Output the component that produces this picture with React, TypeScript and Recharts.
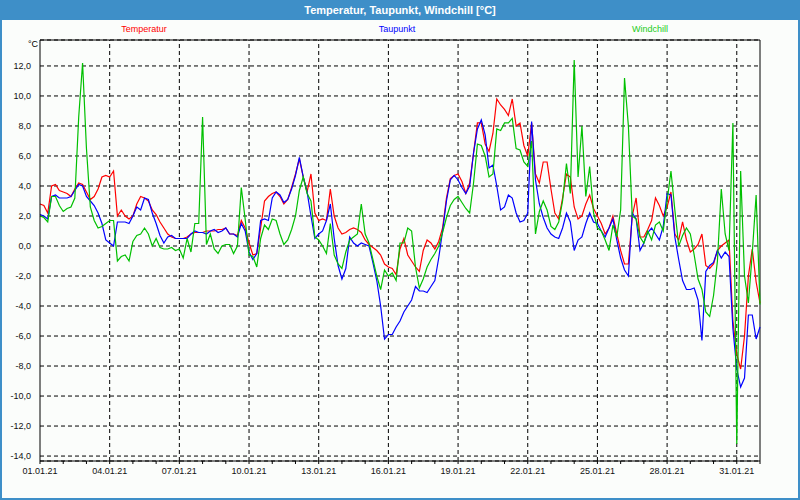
import { LineChart, Line, XAxis, YAxis, CartesianGrid, ReferenceLine } from "recharts";

// one reading every 4 hours, 01.01.21 00:00 .. 01.02.21 00:00
const STEP_HOURS = 4;

const temperatur = [
  2.8, 2.7, 2.2, 4.0, 4.1, 3.7, 3.6, 3.5, 3.3, 3.8, 4.2, 4.1, 3.6, 3.1, 3.3, 3.8, 4.6, 4.7, 4.6, 5.0,
  2.0, 2.4, 2.0, 1.8, 2.0, 2.8, 3.3, 3.2, 3.0, 2.4, 2.1, 1.6, 1.2, 0.8, 0.6, 0.5, 0.5, 0.5, 0.6, 0.8,
  0.9, 0.9, 0.9, 1.0, 1.0, 1.0, 1.1, 1.1, 1.2, 0.8, 0.8, 0.7, 1.7, 1.2, 0.2, -0.6, -0.5, 1.2, 3.0, 3.3,
  3.5, 3.6, 3.3, 2.8, 3.1, 3.9, 4.8, 5.8, 4.6, 3.6, 4.8, 2.2, 1.7, 1.8, 1.7, 3.8, 2.0, 1.2, 0.8, 0.9,
  1.1, 1.2, 1.1, 0.9, 0.4, 0.1, -0.1, -0.3, -0.6, -1.2, -1.4, -1.5, -1.9, -0.2, 0.5, -0.6, -1.0, -1.4, -1.7, -0.3,
  0.4, 0.2, -0.2, 0.3, 1.2, 3.2, 4.5, 4.7, 4.8, 4.3, 3.5, 4.2, 6.2, 8.2, 8.2, 6.8, 6.3, 7.5, 9.8, 9.4,
  9.1, 8.7, 9.8, 8.0, 8.2, 6.7, 6.0, 8.2, 4.8, 4.2, 5.6, 5.6, 3.8, 2.2, 1.8, 3.2, 4.8, 4.6, 2.6, 1.8,
  2.0, 2.8, 3.4, 2.5, 2.0, 1.5, 0.8, 1.2, 2.0, 0.8, -0.3, -1.2, -1.2, 2.0, 3.2, 0.6, 0.6, 1.1, 1.7, 3.2,
  2.7, 2.0, 2.6, 3.6, 0.8, 0.4, 1.6, 0.4, -0.4, -0.2, 0.1, 0.8, -1.3, -1.5, -1.2, -0.3, 0.0, 0.2, 0.4, -5.0,
  -7.2, -8.2, -6.0, -2.0, -0.2, -2.4, -3.8,
];

const taupunkt = [
  2.1, 2.0, 1.8, 3.3, 3.4, 3.2, 3.2, 3.2, 3.3, 3.7, 4.1, 4.0, 3.3, 3.0, 2.7, 2.2, 1.5, 0.4, 0.2, 0.0,
  1.6, 1.6, 1.6, 1.5, 2.0, 2.6, 2.4, 3.2, 3.1, 2.2, 1.5, 0.7, 0.2, 0.6, 0.7, 0.5, 0.5, 0.5, 0.5, 0.8,
  1.0, 0.9, 0.9, 0.8, 1.0, 1.1, 0.9, 1.0, 1.2, 0.8, 0.8, 0.6, 1.5, 1.0, -0.4, -0.9, -0.5, 1.7, 1.8, 1.7,
  3.2, 3.6, 3.4, 2.9, 3.1, 3.8, 4.7, 5.9, 4.6, 3.6, 2.0, 0.5, 0.8, 1.0, 1.7, 2.8, 0.5, -1.3, -2.2, -1.5,
  0.6, 0.2, 0.0, 0.2, 0.1, 0.0, -1.1, -2.3, -4.0, -6.2, -5.9, -5.9, -5.4, -5.0, -4.4, -4.0, -3.6, -2.7, -3.0, -3.0,
  -3.1, -2.7, -2.3, -0.8, 1.0, 3.0, 4.4, 4.7, 4.4, 3.9, 3.5, 4.0, 6.2, 7.8, 8.4, 7.4, 5.2, 5.4, 4.0, 2.4,
  2.6, 3.4, 3.2, 2.2, 1.6, 1.7, 2.2, 8.3, 4.4, 2.8, 1.9, 1.2, 0.8, 0.6, 0.5, 1.2, 2.2, 1.6, -0.3, 0.4,
  0.6, 1.5, 2.2, 1.6, 1.5, 1.0, 0.6, 1.2, 1.8, 0.4, -0.8, -1.6, -2.0, 2.2, 1.8, -0.3, 0.2, 0.9, 1.2, 0.8,
  0.4, 1.3, 3.5, 3.4, 0.6, -0.9, -2.3, -2.9, -2.9, -2.8, -3.6, -6.3, -1.7, -1.3, -1.1, -0.3, -0.8, -0.4, -0.7, -5.5,
  -8.2, -9.4, -8.8, -4.6, -4.6, -6.2, -5.4,
];

const windchill = [
  2.0, 1.9, 1.6, 3.3, 3.3, 2.7, 2.3, 2.5, 2.6, 3.2, 8.6, 12.2, 6.5, 2.6, 1.7, 1.2, 1.3, 1.5, 1.7, 1.7,
  -1.0, -0.7, -0.6, -1.0, 0.3, 0.7, 0.8, 1.2, 0.8, 0.0, 0.5, -0.1, -0.2, -0.2, -0.1, -0.3, -0.2, -0.8, 0.5, -0.4,
  1.5, 1.5, 8.6, 0.1, 0.8, -0.2, -0.5, 0.0, 0.1, 0.1, -0.5, 0.0, 3.9, 1.8, -0.6, -0.7, -1.4, 0.5, 1.4, 1.1,
  1.8, 1.7, 0.8, 0.1, 0.4, 1.1, 2.0, 3.7, 4.6, 3.5, 3.0, 0.6, 0.4, 0.0, -0.5, 1.5, -0.6, -1.2, -1.5, -0.4,
  0.4, 0.6, 0.8, 2.8, 0.8, 0.2, -0.9, -2.0, -2.9, -1.6, -2.0, -1.8, -2.3, 0.2, 0.2, 1.2, 1.0, -1.4, -2.8, -2.2,
  -1.4, -0.9, -0.5, 0.0, 0.9, 1.9, 2.7, 3.1, 3.3, 2.9, 2.5, 2.2, 4.2, 6.8, 6.7, 6.0, 4.6, 4.8, 7.8, 7.7,
  8.2, 8.2, 8.5, 6.5, 6.4, 5.6, 5.3, 7.0, 0.8, 2.3, 3.0, 2.4, 1.3, 1.1, 1.6, 3.0, 5.5, 3.5, 12.4, 4.6,
  8.0, 3.3, 5.3, 2.2, 1.2, 1.0, 0.4, -0.3, 1.4, 0.6, 2.4, 11.2, 8.0, 2.0, 1.8, 0.6, 0.2, 1.0, 0.4, 1.4,
  1.6, 1.0, 3.0, 5.0, 2.4, 0.0, 0.7, 1.2, 0.8, -0.6, -2.2, -2.9, -4.4, -4.7, -3.3, -1.0, 3.8, 0.8, -0.3, 8.2,
  -13.2, 5.0, -2.0, -3.8, -0.5, 3.4, -3.9,
];

const dateLabels = [
  "01.01.21", "04.01.21", "07.01.21", "10.01.21", "13.01.21", "16.01.21",
  "19.01.21", "22.01.21", "25.01.21", "28.01.21", "31.01.21",
];
const yTicks = [-14, -12, -10, -8, -6, -4, -2, 0, 2, 4, 6, 8, 10, 12];

const Y_MIN = -14.33;
const Y_MAX = 13.73;
const END_HOUR = 31 * 24;

const data = temperatur.map((t, i) => ({
  h: i * STEP_HOURS,
  temperatur: t,
  taupunkt: taupunkt[i],
  windchill: windchill[i],
}));

const dayTicks = Array.from({ length: 32 }, (_, d) => d * 24);
const gridHours = dateLabels.map((_, i) => i * 72).filter((h) => h > 0);

const FONT = "'Liberation Sans', Arial, sans-serif";
const FRAME = "#3e8fc8";

function formatHour(h: number) {
  if (h % 72 !== 0) return "";
  return dateLabels[h / 72] ?? "";
}

export default function App() {
  return (
    <div style={{ position: "relative", width: 800, height: 500, background: FRAME, fontFamily: FONT }}>
      <style>{"body{margin:0}"}</style>
      <div style={{ position: "absolute", left: 2, top: 20, right: 2, bottom: 2, background: "#fbfdfb" }} />
      <div
        style={{
          position: "absolute", left: 0, top: 0, width: 800, height: 20, lineHeight: "20px",
          textAlign: "center", color: "#fff", fontWeight: "bold", fontSize: 11,
        }}
      >
        Temperatur, Taupunkt, Windchill [°C]
      </div>
      <div style={{ position: "absolute", left: 94, top: 24, width: 100, textAlign: "center", fontSize: 9, color: "#ff0000" }}>
        Temperatur
      </div>
      <div style={{ position: "absolute", left: 347, top: 24, width: 100, textAlign: "center", fontSize: 9, color: "#0000ff" }}>
        Taupunkt
      </div>
      <div style={{ position: "absolute", left: 600, top: 24, width: 100, textAlign: "center", fontSize: 9, color: "#22cc22" }}>
        Windchill
      </div>
      <div style={{ position: "absolute", left: 10, top: 39, width: 28, textAlign: "right", fontSize: 9, color: "#000" }}>
        °C
      </div>
      <div style={{ position: "absolute", left: 0, top: 0 }}>
        <LineChart width={800} height={500} data={data} margin={{ top: 40, right: 40, bottom: 9, left: 4 }}>
          <CartesianGrid vertical={false} stroke="#000" strokeDasharray="4 3" />
          {gridHours.map((h) => (
            <ReferenceLine key={h} x={h} stroke="#000" strokeDasharray="4 3" />
          ))}
          <ReferenceLine y={Y_MAX} stroke="#000" />
          <ReferenceLine x={END_HOUR} stroke="#000" />
          <XAxis
            dataKey="h"
            type="number"
            domain={[0, END_HOUR]}
            ticks={dayTicks}
            interval={0}
            tickFormatter={formatHour}
            height={30}
            tickSize={3}
            tickMargin={4}
            stroke="#000"
            tick={{ fill: "#111", fontSize: 9, fontFamily: FONT }}
          />
          <YAxis
            type="number"
            domain={[Y_MIN, Y_MAX]}
            ticks={yTicks}
            interval={0}
            allowDataOverflow
            width={36}
            tickLine={false}
            tickMargin={3}
            stroke="#000"
            tickFormatter={(v: number) => v.toFixed(1).replace(".", ",")}
            tick={{ fill: "#111", fontSize: 9, fontFamily: FONT }}
          />
          <Line type="linear" dataKey="temperatur" stroke="#ff0000" strokeWidth={1.2} dot={false} isAnimationActive={false} />
          <Line type="linear" dataKey="taupunkt" stroke="#0000ff" strokeWidth={1.2} dot={false} isAnimationActive={false} />
          <Line type="linear" dataKey="windchill" stroke="#00c000" strokeWidth={1.2} dot={false} isAnimationActive={false} />
        </LineChart>
      </div>
    </div>
  );
}
